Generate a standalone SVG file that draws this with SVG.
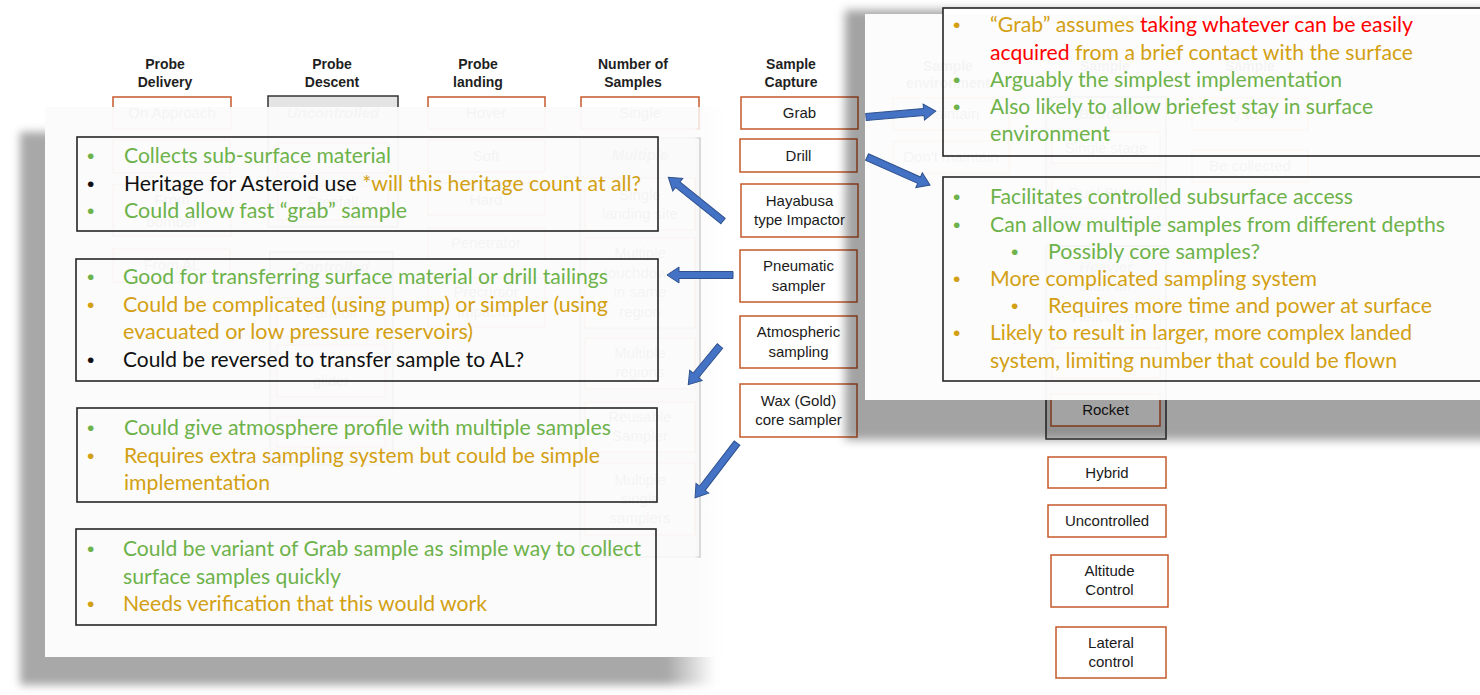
<svg xmlns="http://www.w3.org/2000/svg" width="1480" height="695" viewBox="0 0 1480 695">
<style>
.hdr{font:bold 14px 'Liberation Sans',Arial,sans-serif;fill:#1f1f1f;text-anchor:middle}
.bx{fill:#fff;stroke:#C55A2B;stroke-width:1.5}
.bt{font:15px 'Liberation Sans',Arial,sans-serif;fill:#1a1a1a;text-anchor:middle}
.grp{fill:#e4e4e4;stroke:#333;stroke-width:1.5}
.gt{font:bold italic 15px 'Liberation Sans',Arial,sans-serif;fill:#444;text-anchor:middle}
.nb{fill:none;stroke:#262626;stroke-width:1.6}
.t{font:21px Lato,'Noto Sans',sans-serif}
.bul{font:21px 'Liberation Sans',Arial,sans-serif}
.g{fill:#6DB24A}.o{fill:#D3A013}.k{fill:#111}.r{fill:#FF0000}
.arw{fill:#4472C4;stroke:#2F528F;stroke-width:1}
</style>
<defs>
<filter id="blur" x="-10%" y="-10%" width="120%" height="120%"><feGaussianBlur stdDeviation="4"/></filter>
<filter id="blur5" x="-10%" y="-10%" width="120%" height="120%"><feGaussianBlur stdDeviation="5"/></filter>
<linearGradient id="lpFade" x1="0" y1="0" x2="1" y2="0"><stop offset="0" stop-color="#fbfbfb" stop-opacity="0.965"/><stop offset="0.955" stop-color="#fbfbfb" stop-opacity="0.965"/><stop offset="1" stop-color="#fbfbfb" stop-opacity="0"/></linearGradient>
<linearGradient id="lsFade" x1="0" y1="0" x2="1" y2="0"><stop offset="0" stop-color="#000" stop-opacity="0.34"/><stop offset="0.93" stop-color="#000" stop-opacity="0.34"/><stop offset="1" stop-color="#000" stop-opacity="0"/></linearGradient>
<mask id="lMask" maskUnits="userSpaceOnUse" x="0" y="0" width="1480" height="695"><rect width="1480" height="695" fill="#fff"/><rect x="45" y="107" width="680" height="550" fill="#000"/></mask>
<mask id="rMask" maskUnits="userSpaceOnUse" x="0" y="0" width="1480" height="695"><rect width="1480" height="695" fill="#fff"/><rect x="865" y="14" width="640" height="386" fill="#000"/></mask>
</defs>
<rect width="1480" height="695" fill="#ffffff"/>

<g id="background">
<g id="headers">
<text class="hdr" x="165" y="69">Probe</text><text class="hdr" x="165" y="87">Delivery</text>
<text class="hdr" x="332" y="69">Probe</text><text class="hdr" x="332" y="87">Descent</text>
<text class="hdr" x="478" y="69">Probe</text><text class="hdr" x="478" y="87">landing</text>
<text class="hdr" x="633" y="69">Number of</text><text class="hdr" x="633" y="87">Samples</text>
<text class="hdr" x="791" y="69">Sample</text><text class="hdr" x="791" y="87">Capture</text>
<text class="hdr" x="948" y="71">Sample</text><text class="hdr" x="948" y="88">environment</text>
<text class="hdr" x="1105" y="71">Sample</text>
<text class="hdr" x="1250" y="71">Sample</text>
</g>
<g id="col-delivery">
<rect class="bx" x="113" y="97" width="118" height="32"/><text class="bt" x="172" y="118">On Approach</text>
<rect class="bx" x="113" y="140" width="117" height="33"/>
<rect class="bx" x="113" y="185" width="118" height="51"/><text class="bt" x="172" y="205">From</text><text class="bt" x="172" y="227">bomber</text>
<rect class="bx" x="113" y="249" width="117" height="33"/><text class="bt" x="172" y="270">From AL</text>
</g>
<g id="col-descent">
<rect class="grp" x="268" y="96" width="130" height="131"/><text class="gt" x="333" y="118">Uncontrolled</text>
<rect class="bx" x="278" y="143" width="110" height="30"/>
<rect class="bx" x="278" y="186" width="110" height="34"/><text class="bt" x="333" y="207">Freefall</text>
<rect class="grp" x="270" y="252" width="123" height="213"/><text class="gt" x="332" y="272">Controlled</text>
<rect class="bx" x="277" y="298" width="108" height="39"/><text class="bt" x="331" y="318">Parafoil</text>
<rect class="bx" x="277" y="345" width="108" height="52"/><text class="bt" x="331" y="386">glider</text>
<rect class="bx" x="277" y="417" width="108" height="30"/>
</g>
<g id="col-landing">
<rect class="bx" x="428" y="97" width="117" height="32"/><text class="bt" x="486" y="118">Hover</text>
<rect class="bx" x="428" y="140" width="117" height="32"/><text class="bt" x="486" y="161">Soft</text>
<rect class="bx" x="428" y="183" width="117" height="32"/><text class="bt" x="486" y="205">Hard</text>
<rect class="bx" x="428" y="228" width="117" height="31"/><text class="bt" x="486" y="248">Penetrator</text>
<rect class="bx" x="428" y="278" width="117" height="49"/><text class="bt" x="486" y="297">Precursor</text><text class="bt" x="486" y="317">Impactor</text>
</g>
<g id="col-samples">
<rect class="bx" x="581" y="97" width="118" height="32"/><text class="bt" x="640" y="118">Single</text>
<rect class="grp" x="580" y="138" width="120" height="419"/><text class="gt" x="640" y="160">Multiple</text>
<rect class="bx" x="585" y="178" width="110" height="52"/><text class="bt" x="640" y="200">Single</text><text class="bt" x="640" y="219">landing site</text>
<rect class="bx" x="585" y="238" width="110" height="90"/><text class="bt" x="640" y="258">Multiple</text><text class="bt" x="640" y="278">touchdown</text><text class="bt" x="640" y="297">in same</text><text class="bt" x="640" y="317">region</text>
<rect class="bx" x="585" y="338" width="110" height="51"/><text class="bt" x="640" y="358">Multiple</text><text class="bt" x="640" y="377">regions</text>
<rect class="bx" x="585" y="402" width="110" height="50"/><text class="bt" x="640" y="422">Reusable</text><text class="bt" x="640" y="441">Sampler</text>
<rect class="bx" x="585" y="463" width="110" height="72"/><text class="bt" x="640" y="485">Multiple</text><text class="bt" x="640" y="504">single</text><text class="bt" x="640" y="523">samplers</text>
</g>
<g id="col-environment">
<rect class="bx" x="893" y="98" width="116" height="32"/><text class="bt" x="951" y="119">Maintain</text>
<rect class="bx" x="893" y="141" width="116" height="32"/><text class="bt" x="951" y="162">Don't maintain</text>
</g>
<g id="col-ascent">
<rect class="grp" x="1046" y="97" width="120" height="128"/><text class="gt" x="1106" y="119">Balloon</text>
<rect class="bx" x="1052" y="132" width="108" height="31"/><text class="bt" x="1106" y="153">Single stage</text>
<rect class="bx" x="1052" y="178" width="108" height="30"/><text class="bt" x="1106" y="198">Dual Stage</text>
<rect class="grp" x="1046" y="246" width="120" height="193"/><text class="gt" x="1106" y="272">Heavier</text><text class="gt" x="1106" y="291">than air</text>
<rect class="bx" x="1052" y="302" width="108" height="31"/><text class="bt" x="1106" y="322">Helicopter</text>
<rect class="bx" x="1052" y="348" width="108" height="30"/>
<rect class="bx" x="1051" y="394" width="109" height="32"/><text class="bt" x="1105.5" y="415">Rocket</text>
</g>
<g id="col-return">
<rect class="bx" x="1192" y="98" width="116" height="32"/><text class="bt" x="1250" y="119">Fly to AL</text>
<rect class="bx" x="1192" y="150" width="116" height="32"/><text class="bt" x="1250" y="171">Be collected</text>
</g>
</g>

<g id="col-capture">
<g id="n-grab"><rect class="bx" x="741" y="97" width="117" height="32"/><text class="bt" x="799.5" y="118">Grab</text></g>
<g id="n-drill"><rect class="bx" x="740" y="139" width="117" height="33"/><text class="bt" x="798.5" y="161">Drill</text></g>
<g id="n-hayabusa"><rect class="bx" x="741" y="184" width="117" height="53"/><text class="bt" x="799.5" y="206">Hayabusa</text><text class="bt" x="799.5" y="225">type Impactor</text></g>
<g id="n-pneumatic"><rect class="bx" x="740" y="250" width="117" height="52"/><text class="bt" x="798.5" y="271">Pneumatic</text><text class="bt" x="798.5" y="291">sampler</text></g>
<g id="n-atmospheric"><rect class="bx" x="740" y="316" width="117" height="52"/><text class="bt" x="798.5" y="337">Atmospheric</text><text class="bt" x="798.5" y="357">sampling</text></g>
<g id="n-wax"><rect class="bx" x="740" y="384" width="117" height="53"/><text class="bt" x="798.5" y="406">Wax (Gold)</text><text class="bt" x="798.5" y="425">core sampler</text></g>
</g>

<g id="col-control">
<g id="n-hybrid"><rect class="bx" x="1048" y="457" width="118" height="31"/><text class="bt" x="1107" y="478">Hybrid</text></g>
<g id="n-uncontrolled"><rect class="bx" x="1048" y="505" width="118" height="32"/><text class="bt" x="1107" y="526">Uncontrolled</text></g>
<g id="n-altitude"><rect class="bx" x="1051" y="555" width="117" height="52"/><text class="bt" x="1109.5" y="576">Altitude</text><text class="bt" x="1109.5" y="595">Control</text></g>
<g id="n-lateral"><rect class="bx" x="1056" y="627" width="110" height="51"/><text class="bt" x="1111" y="648">Lateral</text><text class="bt" x="1111" y="667">control</text></g>
</g>

<g id="left-panel">
<rect x="20" y="132" width="695" height="553" fill="url(#lsFade)" filter="url(#blur)" mask="url(#lMask)"/>
<rect x="45" y="107" width="680" height="550" fill="url(#lpFade)"/>
<g id="note-hayabusa">
<rect class="nb" x="77" y="137" width="581" height="94"/>
<text class="bul g" x="87" y="163">•</text><text class="t g" x="124" y="163" textLength="267" lengthAdjust="spacingAndGlyphs">Collects sub-surface material</text>
<text class="bul k" x="87" y="191">•</text><text class="t" x="124" y="191" textLength="517" lengthAdjust="spacingAndGlyphs"><tspan class="k">Heritage for Asteroid use </tspan><tspan class="o">*will this heritage count at all?</tspan></text>
<text class="bul g" x="87" y="218">•</text><text class="t g" x="124" y="218" textLength="283" lengthAdjust="spacingAndGlyphs">Could allow fast “grab” sample</text>
</g>
<g id="note-pneumatic">
<rect class="nb" x="76" y="259" width="582" height="122"/>
<text class="bul g" x="87" y="284">•</text><text class="t g" x="123" y="284" textLength="485" lengthAdjust="spacingAndGlyphs">Good for transferring surface material or drill tailings</text>
<text class="bul o" x="87" y="312">•</text><text class="t o" x="123" y="312" textLength="485" lengthAdjust="spacingAndGlyphs">Could be complicated (using pump) or simpler (using</text>
<text class="t o" x="123" y="339" textLength="350" lengthAdjust="spacingAndGlyphs">evacuated or low pressure reservoirs)</text>
<text class="bul k" x="87" y="367">•</text><text class="t k" x="123" y="367" textLength="401" lengthAdjust="spacingAndGlyphs">Could be reversed to transfer sample to AL?</text>
</g>
<g id="note-atmospheric">
<rect class="nb" x="77" y="408" width="580" height="94"/>
<text class="bul g" x="87" y="435">•</text><text class="t g" x="124" y="435" textLength="487" lengthAdjust="spacingAndGlyphs">Could give atmosphere profile with multiple samples</text>
<text class="bul o" x="87" y="463">•</text><text class="t o" x="124" y="463" textLength="476" lengthAdjust="spacingAndGlyphs">Requires extra sampling system but could be simple</text>
<text class="t o" x="124" y="490" textLength="146" lengthAdjust="spacingAndGlyphs">implementation</text>
</g>
<g id="note-wax">
<rect class="nb" x="76" y="529" width="580" height="96"/>
<text class="bul g" x="87" y="556">•</text><text class="t g" x="123" y="556" textLength="518" lengthAdjust="spacingAndGlyphs">Could be variant of Grab sample as simple way to collect</text>
<text class="t g" x="123" y="584" textLength="218" lengthAdjust="spacingAndGlyphs">surface samples quickly</text>
<text class="bul o" x="87" y="611">•</text><text class="t o" x="123" y="611" textLength="364" lengthAdjust="spacingAndGlyphs">Needs verification that this would work</text>
</g>
</g>

<g id="right-panel">
<rect x="845" y="10" width="665" height="430" fill="#000" fill-opacity="0.36" filter="url(#blur5)" mask="url(#rMask)"/>
<rect x="865" y="14" width="640" height="386" fill="#fcfcfc" fill-opacity="0.965"/>
<rect x="943" y="8" width="560" height="6" fill="#fff"/>
<g id="note-grab">
<rect class="nb" x="943" y="8" width="560" height="148"/>
<text class="bul o" x="953" y="32">•</text><text class="t" x="990" y="32" textLength="423" lengthAdjust="spacingAndGlyphs"><tspan class="o">“Grab” assumes </tspan><tspan class="r">taking whatever can be easily</tspan></text>
<text class="t" x="990" y="60" textLength="423" lengthAdjust="spacingAndGlyphs"><tspan class="r">acquired</tspan><tspan class="o"> from a brief contact with the surface</tspan></text>
<text class="bul g" x="953" y="87">•</text><text class="t g" x="990" y="87" textLength="352" lengthAdjust="spacingAndGlyphs">Arguably the simplest implementation</text>
<text class="bul g" x="953" y="114">•</text><text class="t g" x="990" y="114" textLength="383" lengthAdjust="spacingAndGlyphs">Also likely to allow briefest stay in surface</text>
<text class="t g" x="990" y="141" textLength="120" lengthAdjust="spacingAndGlyphs">environment</text>
</g>
<g id="note-drill">
<rect class="nb" x="943" y="177" width="560" height="204"/>
<text class="bul g" x="953" y="204">•</text><text class="t g" x="990" y="204" textLength="363" lengthAdjust="spacingAndGlyphs">Facilitates controlled subsurface access</text>
<text class="bul g" x="953" y="232">•</text><text class="t g" x="990" y="232" textLength="455" lengthAdjust="spacingAndGlyphs">Can allow multiple samples from different depths</text>
<text class="bul g" x="1011" y="259">•</text><text class="t g" x="1048" y="259" textLength="212" lengthAdjust="spacingAndGlyphs">Possibly core samples?</text>
<text class="bul o" x="953" y="286">•</text><text class="t o" x="990" y="286" textLength="327" lengthAdjust="spacingAndGlyphs">More complicated sampling system</text>
<text class="bul o" x="1011" y="313">•</text><text class="t o" x="1048" y="313" textLength="384" lengthAdjust="spacingAndGlyphs">Requires more time and power at surface</text>
<text class="bul o" x="953" y="340">•</text><text class="t o" x="990" y="340" textLength="422" lengthAdjust="spacingAndGlyphs">Likely to result in larger, more complex landed</text>
<text class="t o" x="990" y="368" textLength="407" lengthAdjust="spacingAndGlyphs">system, limiting number that could be flown</text>
</g>
</g>

<g id="connectors">
<path class="arw" transform="translate(866,117) rotate(-4.9)" d="M0,-3.5 H58 V-8 L70,0 L58,8 V3.5 H0 Z"/>
<path class="arw" transform="translate(867,157) rotate(24)" d="M0,-3.5 H57 V-8 L69,0 L57,8 V3.5 H0 Z"/>
<path class="arw" transform="translate(723,221) rotate(-141.3)" d="M0,-3.5 H58 V-8 L70,0 L58,8 V3.5 H0 Z"/>
<path class="arw" transform="translate(733,275) rotate(180)" d="M0,-3.5 H54 V-8 L66,0 L54,8 V3.5 H0 Z"/>
<path class="arw" transform="translate(720,346) rotate(129.4)" d="M0,-3.5 H38 V-8 L50,0 L38,8 V3.5 H0 Z"/>
<path class="arw" transform="translate(737,443) rotate(127.4)" d="M0,-3.5 H57 V-8 L69,0 L57,8 V3.5 H0 Z"/>
</g>
</svg>
